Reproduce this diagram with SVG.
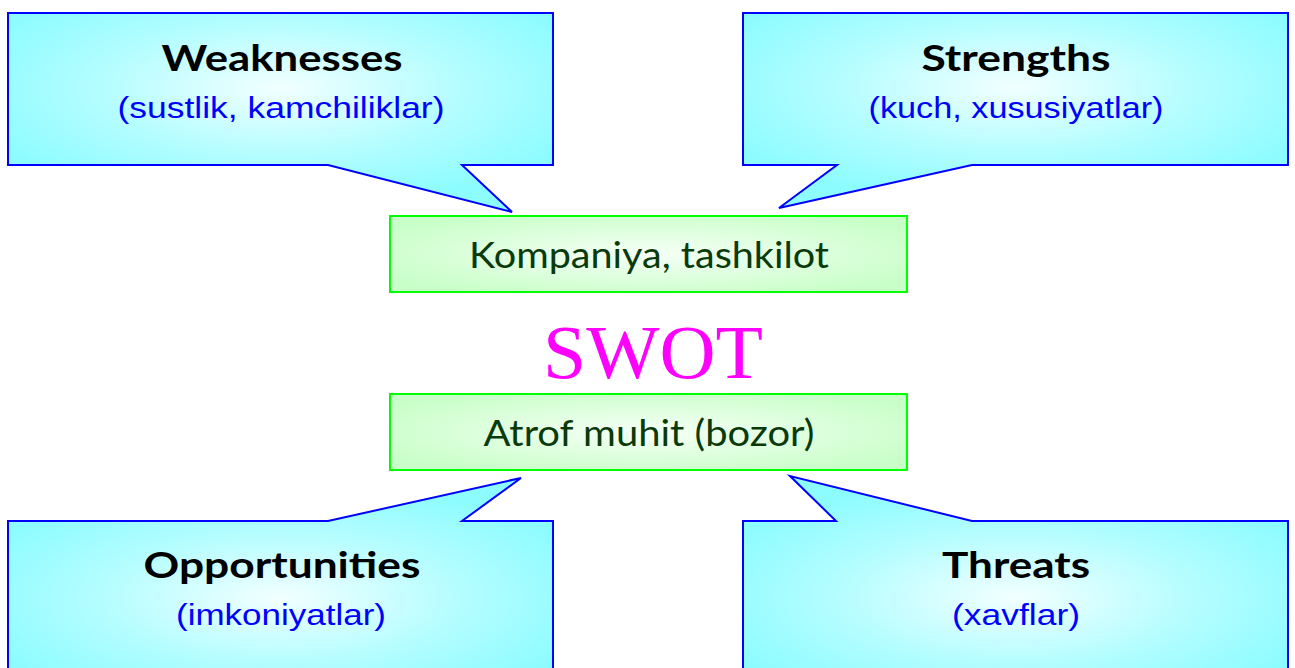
<svg xmlns="http://www.w3.org/2000/svg" width="1295" height="668" viewBox="0 0 1295 668">
  <style>
    .callout { stroke: #0000ff; stroke-width: 2; stroke-linejoin: miter; }
    .box { fill: url(#greenGlow); stroke: #00ff00; stroke-width: 2; }
    .head { font-family: Lato, "Open Sans", sans-serif; font-weight: bold; font-size: 37px; fill: #000000; text-anchor: middle; }
    .sub { font-family: "Liberation Sans", Arial, sans-serif; font-size: 29px; fill: #0000ff; text-anchor: middle; }
    .mid { font-family: Lato, "Open Sans", sans-serif; font-size: 36px; fill: #0a3a0a; text-anchor: middle; }
    .swot { font-family: "Liberation Serif", serif; font-size: 77px; fill: #ff00ff; text-anchor: middle; }
  </style>
  <defs>
    <radialGradient id="cyanTop" cx="0.5" cy="0.38" r="0.6" fx="0.5" fy="0.38">
      <stop offset="0" stop-color="#f2ffff"/>
      <stop offset="0.55" stop-color="#b4fdff"/>
      <stop offset="1" stop-color="#8cfcff"/>
    </radialGradient>
    <radialGradient id="cyanBottom" cx="0.5" cy="0.61" r="0.6" fx="0.5" fy="0.61">
      <stop offset="0" stop-color="#f2ffff"/>
      <stop offset="0.55" stop-color="#b4fdff"/>
      <stop offset="1" stop-color="#8cfcff"/>
    </radialGradient>
    <radialGradient id="greenGlow" cx="0.5" cy="0.5" r="0.6">
      <stop offset="0" stop-color="#f6fff6"/>
      <stop offset="1" stop-color="#c8ffc8"/>
    </radialGradient>
  </defs>

  <!-- callout tails point at the central boxes -->
  <g id="connectors"></g>

  <g id="weaknesses">
    <path class="callout" fill="url(#cyanTop)" d="M8 13 H553 V165 H462 L512 212 L328 165 H8 Z"/>
    <text class="head" x="282" y="71" textLength="241" lengthAdjust="spacingAndGlyphs">Weaknesses</text>
    <text class="sub" x="281" y="118" textLength="327" lengthAdjust="spacingAndGlyphs">(sustlik, kamchiliklar)</text>
  </g>

  <g id="strengths">
    <path class="callout" fill="url(#cyanTop)" d="M743 13 H1288 V165 H972 L779 208 L837 165 H743 Z"/>
    <text class="head" x="1016" y="71" textLength="189" lengthAdjust="spacingAndGlyphs">Strengths</text>
    <text class="sub" x="1016" y="118" textLength="295" lengthAdjust="spacingAndGlyphs">(kuch, xususiyatlar)</text>
  </g>

  <g id="company">
    <rect class="box" x="390" y="216" width="517" height="76"/>
    <text class="mid" x="649" y="268" textLength="360" lengthAdjust="spacingAndGlyphs">Kompaniya, tashkilot</text>
  </g>

  <g id="title">
    <text class="swot" x="653" y="378" textLength="220" lengthAdjust="spacingAndGlyphs">SWOT</text>
  </g>

  <g id="environment">
    <rect class="box" x="390" y="394" width="517" height="76"/>
    <text class="mid" x="649" y="446" textLength="331" lengthAdjust="spacingAndGlyphs">Atrof muhit (bozor)</text>
  </g>

  <g id="opportunities">
    <path class="callout" fill="url(#cyanBottom)" d="M8 521 H328 L521 478 L462 521 H553 V675 H8 Z"/>
    <text class="head" x="282" y="578" textLength="277" lengthAdjust="spacingAndGlyphs">Opportunities</text>
    <text class="sub" x="281" y="625" textLength="210" lengthAdjust="spacingAndGlyphs">(imkoniyatlar)</text>
  </g>

  <g id="threats">
    <path class="callout" fill="url(#cyanBottom)" d="M743 521 H836 L790 476 L972 521 H1288 V675 H743 Z"/>
    <text class="head" x="1016" y="578" textLength="148" lengthAdjust="spacingAndGlyphs">Threats</text>
    <text class="sub" x="1016" y="625" textLength="128" lengthAdjust="spacingAndGlyphs">(xavflar)</text>
  </g>
</svg>
